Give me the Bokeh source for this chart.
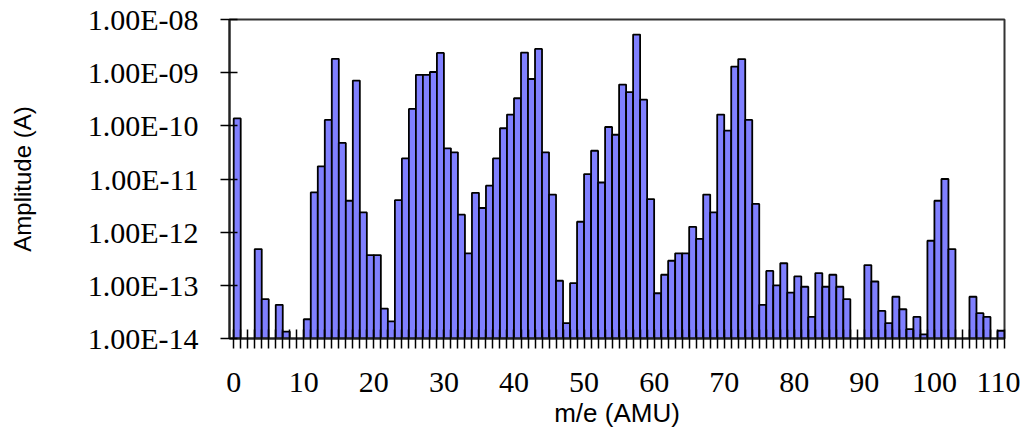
from bokeh.plotting import figure
from bokeh.models import FixedTicker, CustomJSTickFormatter, Range1d, ColumnDataSource
from bokeh.embed import file_html
from bokeh.resources import INLINE

# ---- data ----
masses = list(range(1, 111))
amplitudes = [
    1.38e-10, None, None, 4.8e-13, 5.5e-14, None, 4.3e-14, 1.35e-14, None, None,      # 1-10
    2.3e-14, 5.6e-12, 1.73e-11, 1.29e-10, 1.82e-9, 4.77e-11, 3.9e-12, 7.1e-10, 2.35e-12, 3.7e-13,  # 11-20
    3.7e-13, 3.66e-14, 2.1e-14, 4.0e-12, 2.44e-11, 2.08e-10, 9.1e-10, 9.1e-10, 1.03e-9, 2.35e-9,   # 21-30
    3.78e-11, 3.17e-11, 2.13e-12, 4.0e-13, 5.5e-12, 2.85e-12, 7.5e-12, 2.44e-11, 9.0e-11, 1.63e-10, # 31-40
    3.3e-10, 2.39e-9, 7.6e-10, 2.8e-9, 3.17e-11, 5.1e-12, 1.22e-13, 1.94e-14, 1.1e-13, 1.57e-12,   # 41-50
    1.24e-11, 3.4e-11, 8.6e-12, 9.5e-11, 6.8e-11, 5.97e-10, 4.3e-10, 5.2e-9, 3.1e-10, 4.2e-12,     # 51-60
    7.1e-14, 1.58e-13, 2.9e-13, 4.0e-13, 4.0e-13, 1.26e-12, 7.5e-13, 5.1e-12, 2.35e-12, 1.63e-10,  # 61-70
    8.1e-11, 1.3e-9, 1.8e-9, 1.29e-10, 3.4e-12, 4.3e-14, 1.87e-13, 1.0e-13, 2.6e-13, 7.3e-14,      # 71-80
    1.47e-13, 9.4e-14, 2.55e-14, 1.7e-13, 9.4e-14, 1.58e-13, 9.4e-14, 5.5e-14, None, None,        # 81-90
    2.4e-13, 1.18e-13, 3.3e-14, 1.94e-14, 6.1e-14, 3.55e-14, 1.5e-14, 2.55e-14, 1.2e-14, 6.9e-13, # 91-100
    3.9e-12, 1.0e-11, 4.8e-13, None, None, 6.1e-14, 3.0e-14, 2.55e-14, None, 1.4e-14,             # 101-110
]
x_label_values = list(range(0, 111, 10))
x_ticks = list(range(0, 111))
y_ticks = [1e-14, 1e-13, 1e-12, 1e-11, 1e-10, 1e-9, 1e-8]
y_tick_labels = ["1.00E-14", "1.00E-13", "1.00E-12", "1.00E-11", "1.00E-10", "1.00E-09", "1.00E-08"]
x_title = "m/e (AMU)"
y_title = "Amplitude (A)"

# ---- build ----
present = [(m, a) for m, a in zip(masses, amplitudes) if a is not None]
src = ColumnDataSource(dict(
    left=[m - 1 for m, _ in present],
    right=[m for m, _ in present],
    top=[a for _, a in present],
    bottom=[y_ticks[0]] * len(present),
))

p = figure(width=1020, height=430, y_axis_type="log",
           x_range=Range1d(-0.6, 110), y_range=Range1d(y_ticks[0], y_ticks[-1]),
           output_backend="svg", toolbar_location=None,
           min_border_left=229, min_border_right=16, min_border_top=19, min_border_bottom=92)

p.quad(left="left", right="right", top="top", bottom="bottom", source=src,
       fill_color="#8080FF", line_color="black", line_width=1.8)

p.xgrid.visible = False
p.ygrid.visible = False
p.outline_line_color = "#333333"
p.outline_line_width = 2
p.background_fill_color = "white"
p.border_fill_color = "white"

xa = p.xaxis[0]
xa.ticker = FixedTicker(ticks=x_ticks, minor_ticks=[])
xa.formatter = CustomJSTickFormatter(args=dict(lvals=x_label_values), code="""
const v = Math.round(tick);
return lvals.includes(v) ? String(v) : "";
""")
xa.major_tick_in = 9
xa.major_tick_out = 10
xa.major_tick_line_color = "black"
xa.major_tick_line_width = 1.5
xa.minor_tick_line_color = None
xa.axis_line_width = 2
xa.axis_line_color = "#222222"
xa.major_label_text_font = "Liberation Serif"
xa.major_label_text_font_size = "30px"
xa.major_label_text_color = "black"
xa.major_label_standoff = 24
xa.axis_label = x_title
xa.axis_label_text_font = "Liberation Sans"
xa.axis_label_text_font_size = "26px"
xa.axis_label_text_font_style = "normal"
xa.axis_label_text_color = "black"
xa.axis_label_standoff = 3

ya = p.yaxis[0]
ya.ticker = FixedTicker(ticks=y_ticks, minor_ticks=[])
ya.formatter = CustomJSTickFormatter(args=dict(tvals=y_ticks, tlabels=y_tick_labels), code="""
let best = 0, bd = Infinity;
for (let i = 0; i < tvals.length; i++) {
  const d = Math.abs(Math.log10(tick) - Math.log10(tvals[i]));
  if (d < bd) { bd = d; best = i; }
}
return tlabels[best];
""")
ya.major_tick_in = 8
ya.major_tick_out = 9
ya.major_tick_line_color = "black"
ya.major_tick_line_width = 1.5
ya.minor_tick_line_color = None
ya.axis_line_width = 2
ya.axis_line_color = "#222222"
ya.major_label_text_font = "Liberation Serif"
ya.major_label_text_font_size = "30px"
ya.major_label_text_color = "black"
ya.major_label_standoff = 22
ya.axis_label = y_title
ya.axis_label_text_font = "Liberation Sans"
ya.axis_label_text_font_size = "24px"
ya.axis_label_text_font_style = "normal"
ya.axis_label_text_color = "black"
ya.axis_label_standoff = 49

open("out.html", "w").write(file_html(p, INLINE))
